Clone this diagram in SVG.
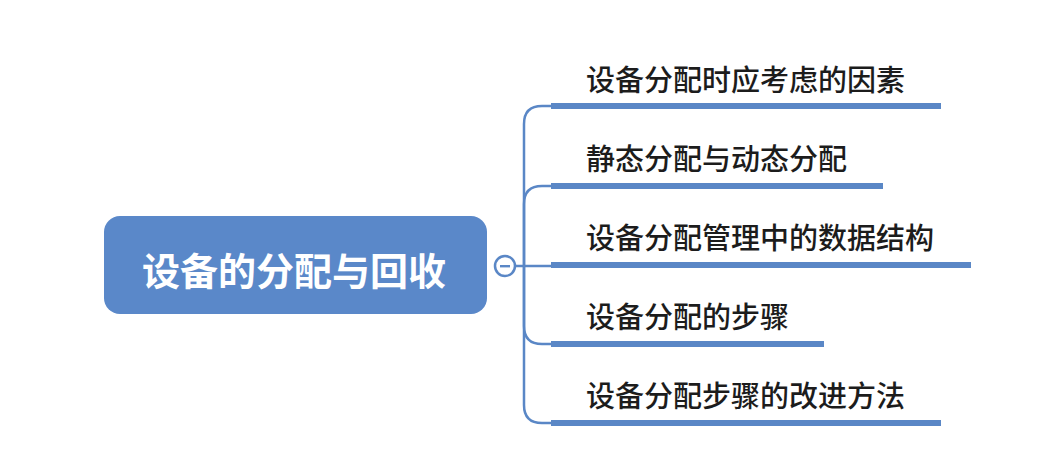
<svg xmlns="http://www.w3.org/2000/svg" width="1039" height="468" viewBox="0 0 1039 468">
<style>
.conn{fill:none;stroke:#5a87c6;stroke-width:2.5}
.bar{fill:#5a87c6}
.lbl{font-family:"Noto Sans CJK SC",sans-serif;font-size:29px;font-weight:500;fill:#1c1c1c}
.root{font-family:"Noto Sans CJK SC",sans-serif;font-size:38px;font-weight:bold;fill:#ffffff}
</style>
<rect width="1039" height="468" fill="#ffffff"/>
<g id="connectors">
<path class="conn" d="M515,266 H524"/>
<path class="conn" d="M524,266 V124 Q524,106 542,106 H552"/>
<path class="conn" d="M524,266 V204 Q524,186 542,186 H552"/>
<path class="conn" d="M524,266 H552"/>
<path class="conn" d="M524,266 V326 Q524,344 542,344 H552"/>
<path class="conn" d="M524,266 V405 Q524,423 542,423 H552"/>
</g>
<g id="root">
<rect x="104" y="216" width="383" height="98" rx="16" fill="#5a88c9"/>
<text class="root" x="294" y="268" text-anchor="middle" dominant-baseline="central">设备的分配与回收</text>
<circle cx="505" cy="266" r="10" fill="#ffffff" stroke="#5a87c6" stroke-width="2.5"/>
<rect x="500" y="265" width="10" height="2.4" fill="#5a87c6"/>
</g>
<g id="n1">
<rect class="bar" x="551" y="103" width="390" height="6"/>
<text class="lbl" x="586" y="91">设备分配时应考虑的因素</text>
</g>
<g id="n2">
<rect class="bar" x="551" y="183" width="332" height="6"/>
<text class="lbl" x="586" y="170">静态分配与动态分配</text>
</g>
<g id="n3">
<rect class="bar" x="551" y="262" width="420" height="6"/>
<text class="lbl" x="586" y="249">设备分配管理中的数据结构</text>
</g>
<g id="n4">
<rect class="bar" x="551" y="341" width="273" height="6"/>
<text class="lbl" x="586" y="328">设备分配的步骤</text>
</g>
<g id="n5">
<rect class="bar" x="551" y="420" width="390" height="6"/>
<text class="lbl" x="586" y="407">设备分配步骤的改进方法</text>
</g>
</svg>
